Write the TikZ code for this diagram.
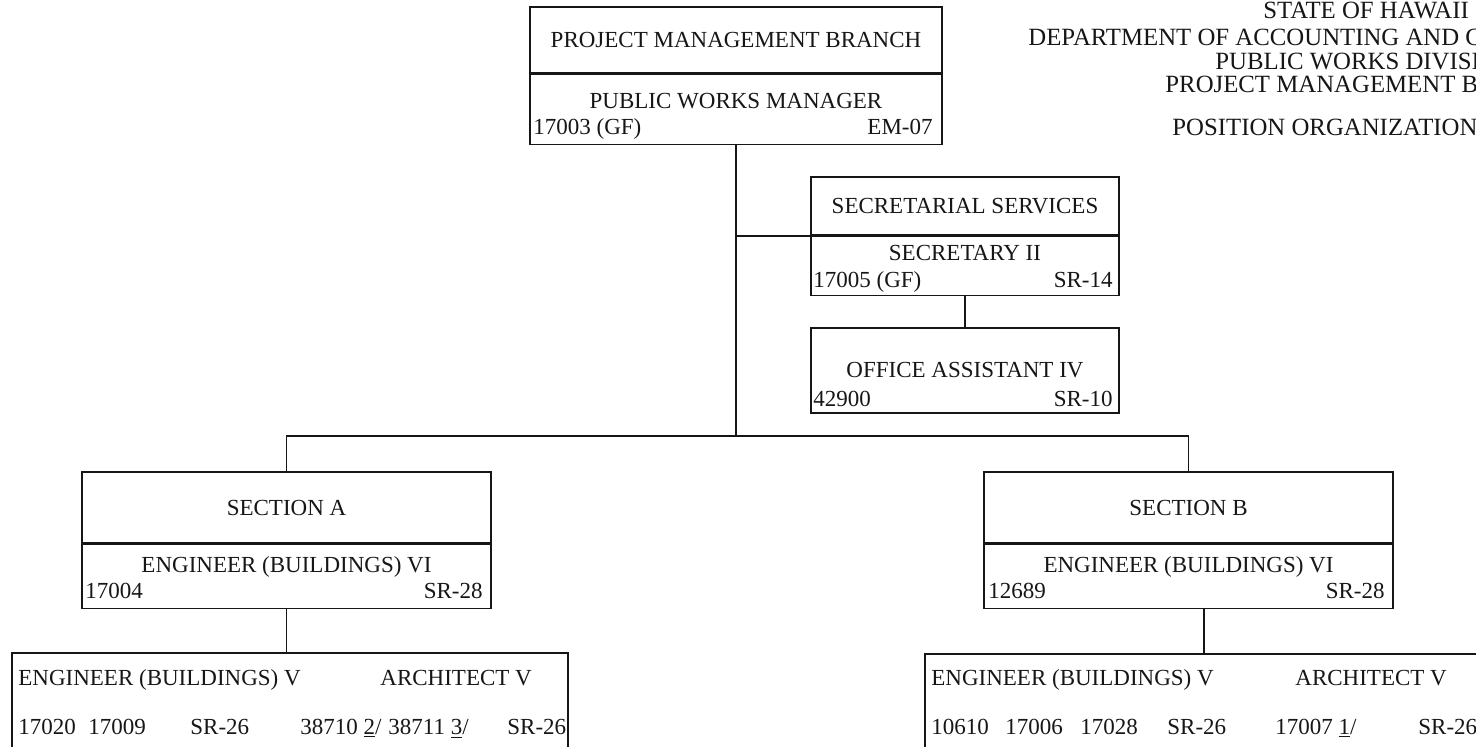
\documentclass[tikz,border=0pt]{standalone}
\usepackage{fontspec}
\setmainfont{Liberation Serif}
\usepackage{xcolor}
\usetikzlibrary{positioning}
\definecolor{chartink}{RGB}{22,22,22}

\tikzset{
  orgbox/.style={draw=chartink, line width=0.8pt, inner sep=0pt, text=chartink},
  orgtext/.style={inner sep=0pt, anchor=base, text=chartink},
  orgline/.style={draw=chartink, line width=0.8pt}
}

\begin{document}
\begin{tikzpicture}[x=0.5pt,y=-0.5pt,font=\fontsize{11.5}{13}\selectfont]

\useasboundingbox (0,0) rectangle (1476,747);

% heading, cut at the right edge
\begin{scope}[font=\fontsize{12.4}{14}\selectfont]
\node[orgtext,anchor=base west] (hstate) at (1263,19) {STATE OF HAWAII};
\node[orgtext,anchor=base west] (hdept) at (1028,46) {DEPARTMENT OF ACCOUNTING AND G};
\node[orgtext,anchor=base west] (hdiv) at (1215,70) {PUBLIC WORKS DIVISI};
\node[orgtext,anchor=base west] (hbranch) at (1165,93) {PROJECT MANAGEMENT B};
\node[orgtext,anchor=base west] (hchart) at (1172,136) {POSITION ORGANIZATION};
\end{scope}

% branch head
\node[orgbox,minimum width=206pt,minimum height=33pt]
  (pmbhead) at (736,40) {PROJECT MANAGEMENT BRANCH};
\node[orgbox,minimum width=206pt,minimum height=35pt,below=0pt of pmbhead] (pmbpos) {};
\node[orgtext] (pmbtitle) at (736,109) {PUBLIC WORKS MANAGER};
\node[orgtext,anchor=base west] (pmbnum) at (533,135) {17003 (GF)};
\node[orgtext,anchor=base east] (pmbgrade) at (933,135) {EM-07};

% secretarial services
\node[orgbox,minimum width=154pt,minimum height=29pt]
  (sechead) at (965,206) {SECRETARIAL SERVICES};
\node[orgbox,minimum width=154pt,minimum height=29.5pt,below=0pt of sechead] (secpos) {};
\node[orgtext] (sectitle) at (965,261) {SECRETARY II};
\node[orgtext,anchor=base west] (secnum) at (813,288) {17005 (GF)};
\node[orgtext,anchor=base east] (secgrade) at (1113,288) {SR-14};

\node[orgbox,minimum width=154pt,minimum height=42.5pt] (office) at (965,370.5) {};
\node[orgtext] (offtitle) at (965,378) {OFFICE ASSISTANT IV};
\node[orgtext,anchor=base west] (offnum) at (813,407) {42900};
\node[orgtext,anchor=base east] (offgrade) at (1113,407) {SR-10};

% sections
\node[orgbox,minimum width=204.5pt,minimum height=35.5pt]
  (secahead) at (286.5,507.5) {SECTION A};
\node[orgbox,minimum width=204.5pt,minimum height=32pt,below=0pt of secahead] (secapos) {};
\node[orgtext] (secatitle) at (286.5,573) {ENGINEER (BUILDINGS) VI};
\node[orgtext,anchor=base west] (secanum) at (85,598) {17004};
\node[orgtext,anchor=base east] (secagrade) at (483,598) {SR-28};

\node[orgbox,minimum width=204.5pt,minimum height=35.5pt]
  (secbhead) at (1188.5,507.5) {SECTION B};
\node[orgbox,minimum width=204.5pt,minimum height=32pt,below=0pt of secbhead] (secbpos) {};
\node[orgtext] (secbtitle) at (1188.5,573) {ENGINEER (BUILDINGS) VI};
\node[orgtext,anchor=base west] (secbnum) at (988,598) {12689};
\node[orgtext,anchor=base east] (secbgrade) at (1385,598) {SR-28};

% staff of the sections, cut at the bottom edge
\node[orgbox,minimum width=278pt,minimum height=68.5pt] (staffa) at (290,721.5) {};
\node[orgtext,anchor=base west] (staffaeng) at (18,685) {ENGINEER (BUILDINGS) V};
\node[orgtext,anchor=base west] (staffaarch) at (380,685) {ARCHITECT V};
\foreach \x/\t [count=\i] in {18/17020, 88/17009, 190/SR-26,
    300/{38710 \underline{2}/}, 388/{38711 \underline{3}/}, 507/SR-26}
  \node[orgtext,anchor=base west] (staffanum\i) at (\x,734) {\t};

\node[orgbox,minimum width=279pt,minimum height=68pt] (staffb) at (1204,722) {};
\node[orgtext,anchor=base west] (staffbeng) at (931,685) {ENGINEER (BUILDINGS) V};
\node[orgtext,anchor=base west] (staffbarch) at (1295,685) {ARCHITECT V};
\foreach \x/\t [count=\i] in {931/10610, 1005/17006, 1080/17028, 1167/SR-26,
    1275/{17007 \underline{1}/}, 1418/SR-26}
  \node[orgtext,anchor=base west] (staffbnum\i) at (\x,734) {\t};

% lines of authority
\coordinate (trunkfoot) at (736,436);
\draw[orgline] (pmbpos.south) -- (trunkfoot);
\draw[orgline] (pmbpos.south |- sechead.south west) -- (sechead.south west);
\draw[orgline] (secpos.south) -- (office.north);
\draw[orgline] (secahead.north) |- (trunkfoot) -| (secbhead.north);
\draw[orgline] (secapos.south) -- (secapos.south |- staffa.north);
\draw[orgline] (staffb.north |- secbpos.south) -- (staffb.north);

\end{tikzpicture}
\end{document}
